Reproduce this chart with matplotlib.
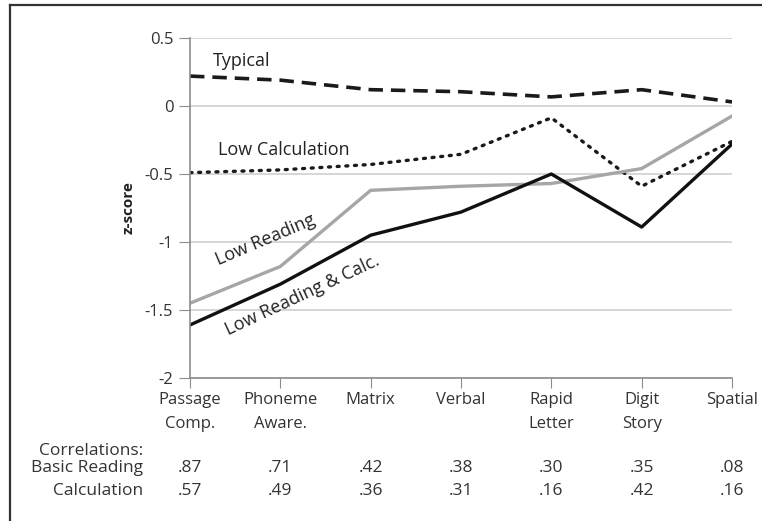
import matplotlib.pyplot as plt
from matplotlib.lines import Line2D

plt.rcParams['font.family'] = ['Open Sans', 'DejaVu Sans']

tests = ["Passage\nComp.", "Phoneme\nAware.", "Matrix", "Verbal",
         "Rapid\nLetter", "Digit\nStory", "Spatial"]
typical = [0.22, 0.19, 0.12, 0.105, 0.067, 0.12, 0.03]
low_calc = [-0.49, -0.47, -0.43, -0.355, -0.087, -0.59, -0.26]
low_read = [-1.45, -1.18, -0.62, -0.59, -0.57, -0.46, -0.074]
low_both = [-1.61, -1.31, -0.95, -0.78, -0.50, -0.89, -0.28]
r_reading = [".87", ".71", ".42", ".38", ".30", ".35", ".08"]
r_calc = [".57", ".49", ".36", ".31", ".16", ".42", ".16"]

fig = plt.figure(figsize=(7.62, 5.21), dpi=100)
ax = fig.add_axes([190/762, 1-378/521, 542/762, 340/521])

x = range(len(tests))
ax.plot(x, typical, color='#1a1a1a', lw=2.6, ls=(0, (4, 2.2)), solid_capstyle='butt')
ax.plot(x, low_calc, color='#1a1a1a', lw=2.4, ls=(0, (0.6, 2.0)), dash_capstyle='round')
ax.plot(x, low_read, color='#a6a6a6', lw=2.4)
ax.plot(x, low_both, color='#111111', lw=2.4)

ax.set_xlim(0, 6)
ax.set_ylim(-2, 0.5)
ax.set_yticks([0.5, 0, -0.5, -1, -1.5, -2])
ax.set_yticklabels(["0.5", "0", "-0.5", "-1", "-1.5", "-2"])
ax.set_xticks(list(x))
ax.set_xticklabels(tests, linespacing=1.65)
ax.grid(axis='y', color='#d0d0d0', lw=1.2)
ax.set_axisbelow(True)
for s in ['top', 'right']:
    ax.spines[s].set_visible(False)
for s in ['left', 'bottom']:
    ax.spines[s].set_color('#8c8c8c')
    ax.spines[s].set_linewidth(1.2)
ax.tick_params(axis='y', length=8, color='#8c8c8c', labelsize=12, labelcolor='#333333', pad=4)
ax.tick_params(axis='x', length=7, color='#8c8c8c', labelsize=12, labelcolor='#333333', pad=3)
ax.set_ylabel("z-score", fontsize=11, fontweight='bold', color='#222222')
ax.yaxis.set_label_coords(-0.10, 0.5)

ax.text(0.25, 0.33, "Typical", fontsize=13, color='#222222', va='center')
ax.text(0.31, -0.32, "Low Calculation", fontsize=13, color='#222222', va='center')
ax.text(0.83, -0.985, "Low Reading", fontsize=13, color='#222222', ha='center', va='center', rotation=23)
ax.text(1.24, -1.39, "Low Reading & Calc.", fontsize=13, color='#222222', ha='center', va='center', rotation=25)

# correlations table under the axis
def fy(py):
    return 1 - py / 521

fig.text(143/762, fy(451), "Correlations:", ha='right', va='center', fontsize=12.5, color='#333333')
fig.text(143/762, fy(468), "Basic Reading", ha='right', va='center', fontsize=12.5, color='#333333')
fig.text(143/762, fy(491), "Calculation", ha='right', va='center', fontsize=12.5, color='#333333')
for i in x:
    ax.annotate(r_reading[i], xy=(i, 0), xycoords=('data', 'figure fraction'),
                xytext=(0, 521 - 468), textcoords='offset pixels',
                ha='center', va='center', fontsize=12.5, color='#333333')
    ax.annotate(r_calc[i], xy=(i, 0), xycoords=('data', 'figure fraction'),
                xytext=(0, 521 - 491), textcoords='offset pixels',
                ha='center', va='center', fontsize=12.5, color='#333333')

# frame lines (top and left only)
fig.add_artist(Line2D([10/762, 1], [fy(5), fy(5)], color='#333333', lw=1.6))
fig.add_artist(Line2D([10/762, 10/762], [fy(5), 0], color='#333333', lw=1.6))

fig.savefig("out.png", dpi=100)
